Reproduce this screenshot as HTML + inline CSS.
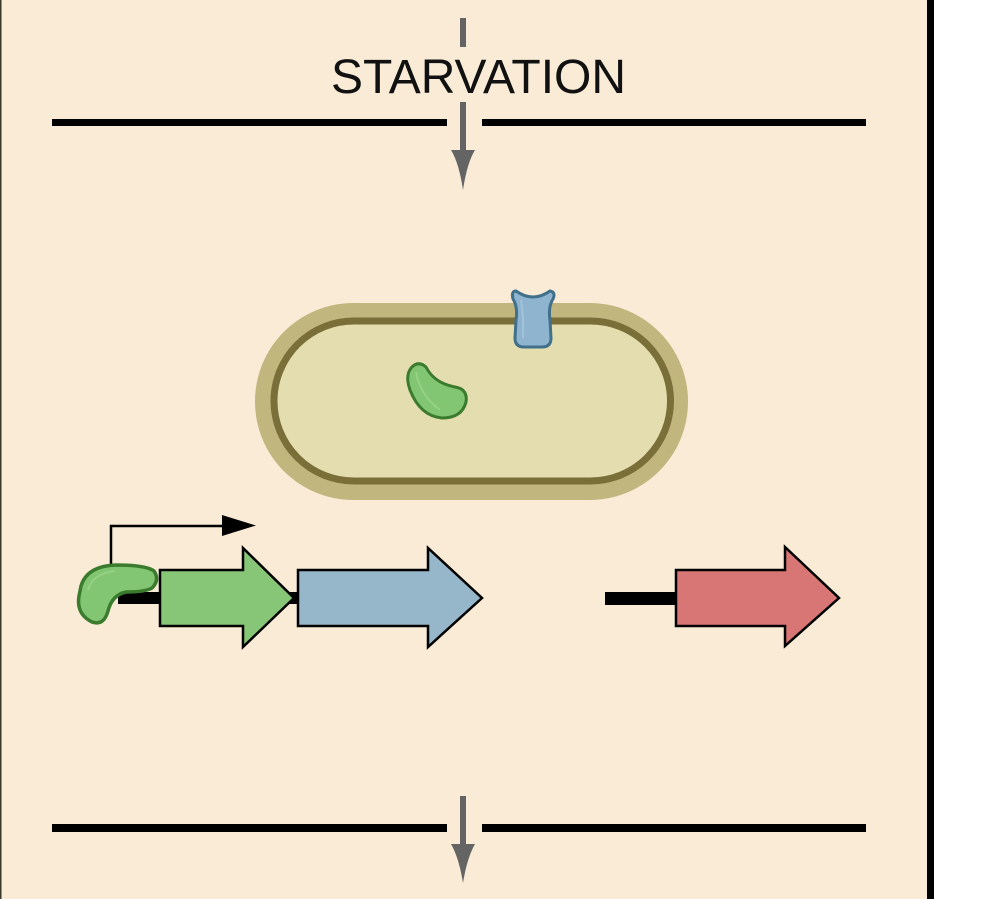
<!DOCTYPE html>
<html>
<head>
<meta charset="utf-8">
<style>
  html, body { margin: 0; padding: 0; background: #ffffff; }
  body { width: 981px; height: 899px; overflow: hidden; }
  svg { display: block; }
</style>
</head>
<body>
<svg width="981" height="899" viewBox="0 0 981 899" xmlns="http://www.w3.org/2000/svg">
  <!-- background panel -->
  <rect x="0" y="0" width="981" height="899" fill="#ffffff"/>
  <rect x="0" y="0" width="930" height="899" fill="#f9ebd6"/>
  <rect x="0" y="0" width="1.5" height="899" fill="#3a3a2a"/>
  <rect x="927" y="0" width="7" height="899" fill="#000000"/>

  <!-- top dashed segment -->
  <rect x="460" y="18" width="6" height="29" fill="#646464"/>

  <!-- STARVATION -->
  <text x="331" y="93" font-family="'Liberation Sans', Arial, sans-serif" font-size="48" fill="#111" textLength="295" lengthAdjust="spacingAndGlyphs">STARVATION</text>

  <!-- top horizontal line -->
  <rect x="52" y="119" width="395" height="7" fill="#000"/>
  <rect x="482" y="119" width="384" height="7" fill="#000"/>

  <!-- top gray arrow -->
  <rect x="460" y="102" width="6" height="50" fill="#646464"/>
  <path d="M451,150 L475,150 Q467,163 463,190 Q459,163 451,150 Z" fill="#646464"/>

  <!-- cell -->
  <rect x="255" y="303" width="433" height="197" rx="98.5" ry="98.5" fill="#c1b67e"/>
  <rect x="274" y="321" width="396.5" height="160" rx="80" ry="80" fill="#e4ddb0" stroke="#7a6f38" stroke-width="7"/>

  <!-- blue membrane protein -->
  <path d="M516,291 Q533,303 550,291 Q556,292 553,299 Q548,307 550,320 L551,338 Q551,347 542,347 L524,347 Q515,347 515,338 L516,320 Q518,307 513,299 Q511,291 516,291 Z" fill="#8fb4cf" stroke="#41708a" stroke-width="3"/>
  <path d="M521,300 Q524,320 523,338" fill="none" stroke="#a9c9de" stroke-width="2" opacity="0.7"/>

  <!-- green protein inside cell -->
  <path d="M411,368 Q418,360 426,367 Q434,383 455,387 Q468,389 466,402 Q462,418 442,418 Q420,416 410,390 Q405,376 411,368 Z" fill="#82c572" stroke="#3b7b2e" stroke-width="3"/>
  <path d="M416,372 Q420,395 440,410" fill="none" stroke="#9ed68e" stroke-width="2" opacity="0.7"/>

  <!-- DNA black lines -->
  <rect x="118" y="592" width="182" height="12" fill="#000"/>
  <rect x="605" y="592" width="72" height="13" fill="#000"/>

  <!-- promoter bent arrow -->
  <path d="M111,566 L111,526 L224,526" fill="none" stroke="#000" stroke-width="2.5"/>
  <path d="M222,515 L256,525.5 L222,536 Z" fill="#000"/>

  <!-- green gene arrow -->
  <path d="M160,570 L243,570 L243,548 L294,598 L243,647 L243,626 L160,626 Z" fill="#86c676" stroke="#000" stroke-width="2.5" stroke-linejoin="miter"/>

  <!-- blue gene arrow -->
  <path d="M298,570 L428,570 L428,548 L482,598 L428,647 L428,626 L298,626 Z" fill="#96b6c9" stroke="#000" stroke-width="2.5" stroke-linejoin="miter"/>

  <!-- red gene arrow -->
  <path d="M676,570 L785,570 L785,547 L839,598 L785,646 L785,626 L676,626 Z" fill="#d77675" stroke="#000" stroke-width="2.5" stroke-linejoin="miter"/>

  <!-- bound green protein -->
  <path d="M81,586 Q87,566 116,565 Q146,565 154,571 Q160,580 152,588 Q145,592 126,592 Q112,595 108,611 Q104,626 92,622 Q76,614 79,596 Z" fill="#82c572" stroke="#3b7b2e" stroke-width="3.5"/>
  <path d="M88,590 Q92,574 115,571" fill="none" stroke="#9ed68e" stroke-width="2" opacity="0.7"/>

  <!-- bottom horizontal line -->
  <rect x="52" y="824" width="395" height="8" fill="#000"/>
  <rect x="482" y="824" width="384" height="8" fill="#000"/>

  <!-- bottom gray arrow -->
  <rect x="460" y="796" width="6" height="50" fill="#646464"/>
  <path d="M451,844 L475,844 Q467,858 463,883 Q459,858 451,844 Z" fill="#646464"/>
</svg>
</body>
</html>
